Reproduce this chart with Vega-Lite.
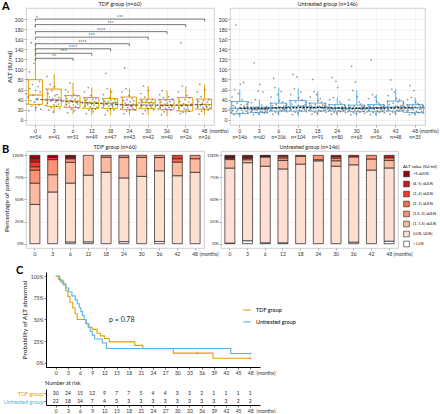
{
"$schema":"https://vega.github.io/schema/vega-lite/v6.json",
"padding":{"left":2,"top":0,"right":0,"bottom":0},
"spacing":3,
"resolve":{"scale":{"color":"independent","stroke":"independent"}},
"config":{
 "font":"Lato",
 "view":{"stroke":"#c4c4c4","strokeWidth":0.8},
 "axis":{"labelFontSize":5,"titleFontSize":6.5,"titleFontWeight":"normal","labelColor":"#333","titleColor":"#111","tickColor":"#777","tickSize":2,"tickWidth":0.6,"domain":false,"labelPadding":1,"titlePadding":2,"gridColor":"#dadada","gridDash":[1,1],"gridWidth":0.6,"labelOverlap":false},
 "title":{"fontSize":5.5,"fontWeight":"normal","offset":0.5,"color":"#222"},
 "legend":{"labelFontSize":5,"titleFontSize":5,"titleFontWeight":"normal"}
},
"datasets":{
 "pts":[
  {"g":"TDF","m":"0","v":[52,31,80,45,18,95,62,38,153,27,70,49,112,35,186,58,24,205,42,66,29,76,55,21]},
  {"g":"TDF","m":"3","v":[40,28,61,86,33,52,19,45,70,37,24,58,42,15,30,66,48,35,27,50,38,31,44,22]},
  {"g":"TDF","m":"6","v":[37,25,48,60,30,42,14,55,33,27,73,39,21,45,35,29,50,18,41,26,34,47,31,23]},
  {"g":"TDF","m":"12","v":[33,23,44,55,28,38,12,41,30,64,19,35,26,48,31,22,40,16,29,36,21,42,34,25]},
  {"g":"TDF","m":"18","v":[33,24,42,50,29,37,10,92,31,62,18,36,27,44,22,39,55,28,26,34,20,40,30,35]},
  {"g":"TDF","m":"24","v":[29,21,45,55,25,38,12,103,33,62,17,40,24,30,48,20,35,27,26,42,22,31,37,19]},
  {"g":"TDF","m":"30","v":[34,23,41,52,28,37,12,67,30,45,18,36,26,39,22,58,32,29,27,35,24,40,31,20]},
  {"g":"TDF","m":"36","v":[29,21,40,50,25,35,10,58,27,44,16,31,23,38,20,33,28,46,24,36,19,30,26,41]},
  {"g":"TDF","m":"42","v":[29,18,44,55,24,36,12,153,27,67,15,32,22,40,30,20,48,26,21,35,17,43,28,31]},
  {"g":"TDF","m":"48","v":[30,22,41,55,26,36,11,70,28,46,17,33,24,38,21,60,31,27,25,35,19,40,29,23]},
  {"g":"UNT","m":"0","v":[22,14,36,45,18,28,10,60,25,188,16,33,20,52,12,24,70,30,19,40,15,74,27,21,23,17,31,26,13,35]},
  {"g":"UNT","m":"3","v":[21,15,25,34,18,22,10,113,20,40,14,24,19,57,12,23,70,17,21,29,16,55,22,13,20,17,23,26,14,21]},
  {"g":"UNT","m":"6","v":[24,17,33,45,20,28,11,82,23,64,15,30,22,50,13,26,38,19,25,56,18,35,21,27,22,19,27,31,16,25]},
  {"g":"UNT","m":"12","v":[26,17,38,50,21,31,10,90,24,62,15,35,22,85,13,29,44,19,27,55,18,40,23,28,24,20,30,35,16,26]},
  {"g":"UNT","m":"18","v":[25,18,33,45,21,28,11,80,23,56,15,30,22,50,13,27,38,19,26,42,17,35,24,29,23,19,28,32,15,26]},
  {"g":"UNT","m":"24","v":[22,17,30,40,19,25,11,84,21,44,15,28,20,76,13,24,64,18,23,35,16,32,21,26,21,18,24,28,14,22]},
  {"g":"UNT","m":"30","v":[22,16,29,40,19,25,10,106,21,58,14,27,20,75,12,24,45,18,23,35,15,31,21,26,21,17,25,28,13,22]},
  {"g":"UNT","m":"36","v":[24,16,30,42,19,27,10,119,22,50,14,28,21,45,12,25,36,18,23,33,15,29,20,26,22,18,26,29,14,24]},
  {"g":"UNT","m":"42","v":[25,17,37,48,20,30,11,79,23,61,15,33,22,55,13,27,42,19,26,35,18,40,21,28,23,19,29,33,15,26]},
  {"g":"UNT","m":"48","v":[24,15,30,40,18,27,10,68,22,44,13,28,20,58,12,25,35,17,23,32,14,29,21,26,22,16,25,28,13,24]}
 ],
 "box":[
  {"g":"TDF","m":"0","lo":17,"q1":30.5,"md":49,"q3":79.5,"hi":153,"tr":41},
  {"g":"TDF","m":"3","lo":14,"q1":26.5,"md":40,"q3":61,"hi":90,"tr":38.4},
  {"g":"TDF","m":"6","lo":11,"q1":24,"md":37,"q3":48,"hi":73,"tr":35.8},
  {"g":"TDF","m":"12","lo":9,"q1":22.5,"md":33,"q3":44,"hi":64,"tr":33},
  {"g":"TDF","m":"18","lo":9,"q1":22.5,"md":33,"q3":42,"hi":62,"tr":31},
  {"g":"TDF","m":"24","lo":9,"q1":20,"md":29,"q3":45,"hi":62,"tr":29},
  {"g":"TDF","m":"30","lo":9,"q1":22,"md":34,"q3":41,"hi":67,"tr":29},
  {"g":"TDF","m":"36","lo":7,"q1":20,"md":29,"q3":40,"hi":58,"tr":28.5},
  {"g":"TDF","m":"42","lo":11,"q1":17,"md":29,"q3":44,"hi":67,"tr":29},
  {"g":"TDF","m":"48","lo":9,"q1":21,"md":30,"q3":41,"hi":70,"tr":30.5},
  {"g":"UNT","m":"0","lo":5,"q1":12,"md":22.5,"q3":36,"hi":60,"tr":23},
  {"g":"UNT","m":"3","lo":8,"q1":14.5,"md":21,"q3":25,"hi":40,"tr":23},
  {"g":"UNT","m":"6","lo":8,"q1":17,"md":24,"q3":33,"hi":64,"tr":23.5},
  {"g":"UNT","m":"12","lo":7,"q1":17,"md":26.5,"q3":38,"hi":62,"tr":24},
  {"g":"UNT","m":"18","lo":8,"q1":17,"md":25,"q3":33,"hi":56,"tr":24},
  {"g":"UNT","m":"24","lo":8,"q1":17,"md":22.5,"q3":30,"hi":44,"tr":23.5},
  {"g":"UNT","m":"30","lo":7,"q1":16,"md":22.5,"q3":29,"hi":58,"tr":23},
  {"g":"UNT","m":"36","lo":7,"q1":16,"md":24,"q3":30,"hi":50,"tr":23},
  {"g":"UNT","m":"42","lo":8,"q1":17,"md":25,"q3":37,"hi":61,"tr":23.5},
  {"g":"UNT","m":"48","lo":8,"q1":14.5,"md":24,"q3":30,"hi":44,"tr":23.5}
 ],
 "sig":[
  {"from":0,"to":2,"y":122,"s":"**"},
  {"from":0,"to":3,"y":132,"s":"***"},
  {"from":0,"to":4,"y":141,"s":"****"},
  {"from":0,"to":5,"y":151,"s":"****"},
  {"from":0,"to":6,"y":164,"s":"***"},
  {"from":0,"to":7,"y":175,"s":"****"},
  {"from":0,"to":8,"y":189,"s":"***"},
  {"from":0,"to":9,"y":200,"s":"***"}
 ],
 "alt":[
  {"g":"TDF","m":"0","cat":["[LLN, ULN]","(1, 1.5] xULN","(1.5, 2] xULN","(2, 3] xULN","(3, 4] xULN","(4, 5] xULN",">5 xULN"],"n":[24,13,8,2,3,2,2]},
  {"g":"TDF","m":"3","cat":["[LLN, ULN]","(1, 1.5] xULN","(1.5, 2] xULN","(3, 4] xULN",">5 xULN"],"n":[24,8,7,1,1]},
  {"g":"TDF","m":"6","cat":["< LLN","[LLN, ULN]","(1, 1.5] xULN","(1.5, 2] xULN","(4, 5] xULN",">5 xULN"],"n":[1,34,12,2,1,1]},
  {"g":"TDF","m":"12","cat":["< LLN","[LLN, ULN]","(1, 1.5] xULN"],"n":[1,37,11]},
  {"g":"TDF","m":"18","cat":["[LLN, ULN]","(1, 1.5] xULN","(1.5, 2] xULN"],"n":[38,8,1]},
  {"g":"TDF","m":"24","cat":["< LLN","[LLN, ULN]","(1, 1.5] xULN","(1.5, 2] xULN"],"n":[1,31,10,1]},
  {"g":"TDF","m":"30","cat":["[LLN, ULN]","(1, 1.5] xULN","(1.5, 2] xULN"],"n":[32,9,1]},
  {"g":"TDF","m":"36","cat":["< LLN","[LLN, ULN]","(1, 1.5] xULN","(1.5, 2] xULN"],"n":[1,32,6,1]},
  {"g":"TDF","m":"42","cat":["[LLN, ULN]","(1, 1.5] xULN","(2, 3] xULN","(3, 4] xULN"],"n":[20,4,1,1]},
  {"g":"TDF","m":"48","cat":["[LLN, ULN]","(1, 1.5] xULN","(1.5, 2] xULN"],"n":[21,4,1]},
  {"g":"UNT","m":"0","cat":["< LLN","[LLN, ULN]","(1, 1.5] xULN","(1.5, 2] xULN","(2, 3] xULN","(4, 5] xULN",">5 xULN"],"n":[1,124,14,2,1,1,3]},
  {"g":"UNT","m":"3","cat":["< LLN","[LLN, ULN]","(1, 1.5] xULN","(1.5, 2] xULN","(4, 5] xULN",">5 xULN"],"n":[2,53,2,1,1,1]},
  {"g":"UNT","m":"6","cat":["< LLN","[LLN, ULN]","(1, 1.5] xULN","(4, 5] xULN",">5 xULN"],"n":[1,92,11,1,1]},
  {"g":"UNT","m":"12","cat":["< LLN","[LLN, ULN]","(1, 1.5] xULN","(1.5, 2] xULN","(2, 3] xULN","(4, 5] xULN"],"n":[1,87,10,3,2,1]},
  {"g":"UNT","m":"18","cat":["[LLN, ULN]","(1, 1.5] xULN","(2, 3] xULN"],"n":[82,8,1]},
  {"g":"UNT","m":"24","cat":["[LLN, ULN]","(1, 1.5] xULN","(1.5, 2] xULN"],"n":[75,1,4]},
  {"g":"UNT","m":"30","cat":["[LLN, ULN]","(1, 1.5] xULN","(1.5, 2] xULN","(2, 3] xULN","(4, 5] xULN"],"n":[57,4,2,1,1]},
  {"g":"UNT","m":"36","cat":["< LLN","[LLN, ULN]","(1, 1.5] xULN","(4, 5] xULN"],"n":[1,49,5,1]},
  {"g":"UNT","m":"42","cat":["[LLN, ULN]","(1, 1.5] xULN","(1.5, 2] xULN"],"n":[40,6,2]},
  {"g":"UNT","m":"48","cat":["< LLN","[LLN, ULN]","(1, 1.5] xULN","(1.5, 2] xULN","(4, 5] xULN"],"n":[1,29,3,1,1]}
 ],
 "km":[
  {"g":"TDF group","t":[0,0.7,1.3,2.0,2.5,3.0,3.5,4.2,4.8,5.3,7.4,8.2,9.0,10.2,11.0,12.0,13.2,19.5,21.5,29.0,38.8,48],"s":[1,0.967,0.933,0.9,0.833,0.767,0.7,0.633,0.567,0.5,0.45,0.41,0.385,0.34,0.31,0.28,0.24,0.2,0.16,0.11,0.05,0.05]},
  {"g":"Untreated group","t":[0,1.0,1.8,2.5,3.2,4.0,4.8,5.3,5.8,6.2,6.6,7.0,7.5,8.0,8.5,9.0,9.6,11.5,12.5,43.2,48],"s":[1,0.955,0.909,0.864,0.818,0.773,0.727,0.682,0.636,0.591,0.545,0.5,0.455,0.409,0.364,0.318,0.273,0.227,0.163,0.105,0.105]}
 ],
 "cens":[
  {"g":"TDF group","t":35,"s":0.11},
  {"g":"TDF group","t":48,"s":0.05},
  {"g":"Untreated group","t":48,"s":0.105}
 ],
 "risk":[
  {"g":"TDF group","t":[0,3,6,9,12,15,18,21,24,27,30,33,36,39,42,45,48],"n":[30,24,15,12,9,7,7,5,4,4,3,3,2,1,1,1,1]},
  {"g":"Untreated group","t":[0,3,6,9,12,15,18,21,24,27,30,33,36,39,42,45,48],"n":[22,18,14,7,4,3,3,3,3,3,3,3,3,3,3,2,2]}
 ]
},
"vconcat":[
 {
  "title":{"text":"A","anchor":"start","frame":"group","fontSize":11,"fontWeight":"bold","dx":-24,"offset":-10,"color":"#000"},
  "bounds":"flush","spacing":16,
  "hconcat":[
   {
    "width":188,"height":117,
    "title":"TDF group (n=60)",
    "layer":[
     {"data":{"name":"box"},"transform":[{"filter":"datum.g=='TDF'"}],
      "layer":[
       {"mark":{"type":"rule","color":"#E69F00","strokeWidth":1},
        "encoding":{
         "x":{"field":"m","type":"ordinal","sort":["0","3","6","12","18","24","30","36","42","48"],"scale":{"paddingInner":0,"paddingOuter":0},"title":"(months)",
              "axis":{"grid":true,"bandPosition":0.5,"labelAngle":0,"labelBaseline":"top","labelLineHeight":6.5,
                      "labelExpr":"[datum.value, ['n=54','n=41','n=51','n=49','n=47','n=43','n=42','n=40','n=26','n=26'][indexof(['0','3','6','12','18','24','30','36','42','48'], datum.value)]]",
                      "titleX":183,"titleY":3,"titleAlign":"left","titleBaseline":"top","titleFontSize":5,"titleColor":"#333"}},
         "y":{"field":"lo","type":"quantitative","scale":{"domain":[-10.5,222],"nice":false,"zero":false},"title":"ALT (IU/ml)","axis":{"values":[0,20,40,60,80,100,120,140,160,180,200]}},
         "y2":{"field":"q1"}}},
       {"mark":{"type":"rule","color":"#E69F00","strokeWidth":1},
        "encoding":{"x":{"field":"m","type":"ordinal","sort":["0","3","6","12","18","24","30","36","42","48"]},"y":{"field":"q3","type":"quantitative","title":"ALT (IU/ml)","axis":{"values":[0,20,40,60,80,100,120,140,160,180,200]}},"y2":{"field":"hi"}}},
       {"mark":{"type":"bar","width":14,"fill":"#ffffff","fillOpacity":0,"stroke":"#E69F00","strokeWidth":1},
        "encoding":{"x":{"field":"m","type":"ordinal","sort":["0","3","6","12","18","24","30","36","42","48"]},"y":{"field":"q1","type":"quantitative","title":"ALT (IU/ml)","axis":{"values":[0,20,40,60,80,100,120,140,160,180,200]}},"y2":{"field":"q3"}}},
       {"mark":{"type":"bar","width":14,"fill":"#ffffff","fillOpacity":0,"stroke":"#E69F00","strokeWidth":0.8},
        "encoding":{"x":{"field":"m","type":"ordinal","sort":["0","3","6","12","18","24","30","36","42","48"]},"y":{"field":"md","type":"quantitative","title":"ALT (IU/ml)","axis":{"values":[0,20,40,60,80,100,120,140,160,180,200]}},"y2":{"field":"md"}}},
       {"data":{"name":"pts"},"transform":[{"filter":"datum.g=='TDF'"},{"flatten":["v"]},{"window":[{"op":"row_number","as":"r"}],"groupby":["m"]}],
        "mark":{"type":"circle","size":3,"color":"#555","opacity":0.6},
        "encoding":{"x":{"field":"m","type":"ordinal","sort":["0","3","6","12","18","24","30","36","42","48"]},"xOffset":{"field":"r","type":"nominal","scale":{"paddingOuter":0.3}},"y":{"field":"v","type":"quantitative","title":"ALT (IU/ml)","axis":{"values":[0,20,40,60,80,100,120,140,160,180,200]}}}},
       {"mark":{"type":"line","color":"#444","strokeDash":[3,2],"strokeWidth":0.9},
        "encoding":{"x":{"field":"m","type":"ordinal","sort":["0","3","6","12","18","24","30","36","42","48"]},"y":{"field":"tr","type":"quantitative","title":"ALT (IU/ml)","axis":{"values":[0,20,40,60,80,100,120,140,160,180,200]}}}}
      ]},
     {"data":{"name":"sig"},
      "layer":[
       {"mark":{"type":"rule","color":"#555","strokeWidth":0.8},
        "encoding":{"x":{"field":"from","type":"quantitative","scale":{"domain":[-0.5,9.5],"nice":false,"zero":false},"axis":null},"x2":{"field":"to"},"y":{"field":"y","type":"quantitative","title":"ALT (IU/ml)","axis":{"values":[0,20,40,60,80,100,120,140,160,180,200]}}}},
       {"transform":[{"calculate":"datum.y-5","as":"yb"}],
        "mark":{"type":"rule","color":"#555","strokeWidth":0.8},
        "encoding":{"x":{"field":"from","type":"quantitative","scale":{"domain":[-0.5,9.5],"nice":false,"zero":false},"axis":null},"y":{"field":"y","type":"quantitative","title":"ALT (IU/ml)","axis":{"values":[0,20,40,60,80,100,120,140,160,180,200]}},"y2":{"field":"yb"}}},
       {"transform":[{"calculate":"datum.y-5","as":"yb"}],
        "mark":{"type":"rule","color":"#555","strokeWidth":0.8},
        "encoding":{"x":{"field":"to","type":"quantitative","scale":{"domain":[-0.5,9.5],"nice":false,"zero":false},"axis":null},"y":{"field":"y","type":"quantitative","title":"ALT (IU/ml)","axis":{"values":[0,20,40,60,80,100,120,140,160,180,200]}},"y2":{"field":"yb"}}},
       {"transform":[{"calculate":"datum.to/2","as":"mid"}],
        "mark":{"type":"text","fontSize":5,"baseline":"bottom","dy":1,"color":"#222"},
        "encoding":{"x":{"field":"mid","type":"quantitative","scale":{"domain":[-0.5,9.5],"nice":false,"zero":false},"axis":null},"y":{"field":"y","type":"quantitative","title":"ALT (IU/ml)","axis":{"values":[0,20,40,60,80,100,120,140,160,180,200]}},"text":{"field":"s"}}}
      ]}
    ],
    "resolve":{"scale":{"x":"independent"}}
   },
   {
    "width":195,"height":117,
    "title":"Untreated group (n=146)",
    "data":{"name":"box"},"transform":[{"filter":"datum.g=='UNT'"}],
    "layer":[
     {"mark":{"type":"rule","color":"#56B4E9","strokeWidth":1},
      "encoding":{
       "x":{"field":"m","type":"ordinal","sort":["0","3","6","12","18","24","30","36","42","48"],"scale":{"paddingInner":0,"paddingOuter":0},"title":"(months)",
            "axis":{"grid":true,"bandPosition":0.5,"labelAngle":0,"labelBaseline":"top","labelLineHeight":6.5,
                    "labelExpr":"[datum.value, ['n=146','n=60','n=106','n=104','n=91','n=80','n=65','n=56','n=48','n=35'][indexof(['0','3','6','12','18','24','30','36','42','48'], datum.value)]]",
                    "titleX":189,"titleY":3,"titleAlign":"left","titleBaseline":"top","titleFontSize":5,"titleColor":"#333"}},
       "y":{"field":"lo","type":"quantitative","scale":{"domain":[-10.5,222],"nice":false,"zero":false},"title":null,"axis":{"values":[0,20,40,60,80,100,120,140,160,180,200]}},
       "y2":{"field":"q1"}}},
     {"mark":{"type":"rule","color":"#56B4E9","strokeWidth":1},
      "encoding":{"x":{"field":"m","type":"ordinal","sort":["0","3","6","12","18","24","30","36","42","48"]},"y":{"field":"q3","type":"quantitative","title":null,"axis":{"values":[0,20,40,60,80,100,120,140,160,180,200]}},"y2":{"field":"hi"}}},
     {"mark":{"type":"bar","width":16,"fill":"#ffffff","fillOpacity":0,"stroke":"#56B4E9","strokeWidth":1},
      "encoding":{"x":{"field":"m","type":"ordinal","sort":["0","3","6","12","18","24","30","36","42","48"]},"y":{"field":"q1","type":"quantitative","title":null,"axis":{"values":[0,20,40,60,80,100,120,140,160,180,200]}},"y2":{"field":"q3"}}},
     {"mark":{"type":"bar","width":16,"fill":"#ffffff","fillOpacity":0,"stroke":"#56B4E9","strokeWidth":0.8},
      "encoding":{"x":{"field":"m","type":"ordinal","sort":["0","3","6","12","18","24","30","36","42","48"]},"y":{"field":"md","type":"quantitative","title":null,"axis":{"values":[0,20,40,60,80,100,120,140,160,180,200]}},"y2":{"field":"md"}}},
     {"data":{"name":"pts"},"transform":[{"filter":"datum.g=='UNT'"},{"flatten":["v"]},{"window":[{"op":"row_number","as":"r"}],"groupby":["m"]}],
      "mark":{"type":"circle","size":3,"color":"#555","opacity":0.6},
      "encoding":{"x":{"field":"m","type":"ordinal","sort":["0","3","6","12","18","24","30","36","42","48"]},"xOffset":{"field":"r","type":"nominal","scale":{"paddingOuter":0.3}},"y":{"field":"v","type":"quantitative","title":null,"axis":{"values":[0,20,40,60,80,100,120,140,160,180,200]}}}},
     {"mark":{"type":"line","color":"#111","strokeDash":[2,1.5],"strokeWidth":1.2},
      "encoding":{"x":{"field":"m","type":"ordinal","sort":["0","3","6","12","18","24","30","36","42","48"]},"y":{"field":"tr","type":"quantitative","title":null,"axis":{"values":[0,20,40,60,80,100,120,140,160,180,200]}}}}
    ]
   }
  ]
 },
 {
  "title":{"text":"B","anchor":"start","frame":"group","fontSize":11,"fontWeight":"bold","dx":-24,"offset":-10,"color":"#000"},
  "bounds":"flush","spacing":17,
  "hconcat":[
   {
    "width":178,"height":97,
    "title":"TDF group (n=60)",
    "data":{"name":"alt"},
    "transform":[{"filter":"datum.g=='TDF'"},{"flatten":["cat","n"]},{"calculate":"indexof(['< LLN','[LLN, ULN]','(1, 1.5] xULN','(1.5, 2] xULN','(2, 3] xULN','(3, 4] xULN','(4, 5] xULN','>5 xULN'], datum.cat)","as":"o"}],
    "mark":{"type":"bar","width":10,"stroke":"#222","strokeWidth":0.7},
    "encoding":{
     "x":{"field":"m","type":"ordinal","sort":["0","3","6","12","18","24","30","36","42","48"],"scale":{"paddingInner":0,"paddingOuter":0},"title":"(months)",
          "axis":{"labelAngle":0,"labelBaseline":"top","labelLineHeight":5,"labelExpr":"[datum.value, '']","titleX":173,"titleY":3,"titleAlign":"left","titleBaseline":"top","titleFontSize":5,"titleColor":"#333"}},
     "y":{"field":"n","type":"quantitative","stack":"normalize","scale":{"domain":[-0.049,1.049],"nice":false,"zero":false},"title":"Percentage of patients","axis":{"values":[0,0.25,0.5,0.75,1],"format":"%","labelFontSize":4.5}},
     "color":{"field":"cat","type":"nominal","scale":{"domain":[">5 xULN","(4, 5] xULN","(3, 4] xULN","(2, 3] xULN","(1.5, 2] xULN","(1, 1.5] xULN","[LLN, ULN]","< LLN"],"range":["#99000D","#CB181D","#EF3B2C","#FB6A4A","#FC9272","#FCBBA1","#FEE0D2","#FFFFFF"]},
              "legend":{"title":"ALT value (IU/ml)","orient":"none","legendX":377,"legendY":13,"titleFontSize":4.5,"labelFontSize":4,"symbolType":"square","symbolSize":32,"symbolStrokeColor":"#222","symbolStrokeWidth":0.6,"rowPadding":1,"titlePadding":2,"labelOffset":3,"padding":0}},
     "order":{"field":"o","type":"quantitative"}
    }
   },
   {
    "width":177,"height":97,
    "title":"Untreated group (n=146)",
    "data":{"name":"alt"},
    "transform":[{"filter":"datum.g=='UNT'"},{"flatten":["cat","n"]},{"calculate":"indexof(['< LLN','[LLN, ULN]','(1, 1.5] xULN','(1.5, 2] xULN','(2, 3] xULN','(3, 4] xULN','(4, 5] xULN','>5 xULN'], datum.cat)","as":"o"}],
    "mark":{"type":"bar","width":10,"stroke":"#222","strokeWidth":0.7},
    "encoding":{
     "x":{"field":"m","type":"ordinal","sort":["0","3","6","12","18","24","30","36","42","48"],"scale":{"paddingInner":0,"paddingOuter":0},"title":"(months)",
          "axis":{"labelAngle":0,"labelBaseline":"top","labelLineHeight":5,"labelExpr":"[datum.value, '']","titleX":172,"titleY":3,"titleAlign":"left","titleBaseline":"top","titleFontSize":5,"titleColor":"#333"}},
     "y":{"field":"n","type":"quantitative","stack":"normalize","scale":{"domain":[-0.049,1.049],"nice":false,"zero":false},"title":null,"axis":{"values":[0,0.25,0.5,0.75,1],"format":"%","labelFontSize":4.5}},
     "color":{"field":"cat","type":"nominal"},
     "order":{"field":"o","type":"quantitative"}
    }
   }
  ]
 },
 {
  "title":{"text":"C","anchor":"start","frame":"group","fontSize":11,"fontWeight":"bold","dx":-10,"offset":-4,"color":"#000"},
  "bounds":"flush","spacing":0,
  "hconcat":[
   {"width":20,"height":10,"view":{"stroke":null},"data":{"values":[{}]},"mark":{"type":"point","opacity":0},"encoding":{}},
   {
    "bounds":"flush","spacing":22,
    "vconcat":[
     {
      "width":214,"height":95,
      "view":{"stroke":null},
      "layer":[
       {"data":{"name":"km"},"transform":[{"flatten":["t","s"]}],
        "mark":{"type":"line","interpolate":"step-after","strokeWidth":1.1},
        "encoding":{
         "x":{"field":"t","type":"quantitative","scale":{"domain":[-2.4,50.4],"nice":false,"zero":false},"title":"(months)",
              "axis":{"values":[0,3,6,9,12,15,18,21,24,27,30,33,36,39,42,45,48],"grid":false,"domain":true,"domainColor":"#000","tickColor":"#000","labelFontSize":5,"titleX":210,"titleY":3,"titleAlign":"left","titleBaseline":"top","titleFontSize":5,"titleColor":"#333"}},
         "y":{"field":"s","type":"quantitative","scale":{"domain":[-0.051,1.05],"nice":false,"zero":false},"title":"Probability of ALT abnormal",
              "axis":{"values":[0,0.25,0.5,0.75,1],"format":"%","grid":false,"domain":true,"domainColor":"#000","tickColor":"#000","titleFontSize":6.5,"titlePadding":3}},
         "stroke":{"field":"g","type":"nominal","scale":{"domain":["TDF group","Untreated group"],"range":["#E69F00","#56B4E9"]},
                   "legend":{"title":null,"orient":"none","legendX":216,"legendY":33,"symbolType":"stroke","symbolStrokeWidth":1.5,"symbolSize":60,"labelFontSize":5.5,"rowPadding":3}}
        }},
       {"data":{"name":"cens"},
        "mark":{"type":"point","shape":"M-1,0H1M0,-1V1","size":14,"filled":false,"strokeWidth":0.8},
        "encoding":{
         "x":{"field":"t","type":"quantitative","title":"(months)","axis":{"values":[0,3,6,9,12,15,18,21,24,27,30,33,36,39,42,45,48],"grid":false,"domain":true,"domainColor":"#000","tickColor":"#000","labelFontSize":5,"titleX":210,"titleY":3,"titleAlign":"left","titleBaseline":"top","titleFontSize":5,"titleColor":"#333"}},
         "y":{"field":"s","type":"quantitative","title":"Probability of ALT abnormal","axis":{"values":[0,0.25,0.5,0.75,1],"format":"%","grid":false,"domain":true,"domainColor":"#000","tickColor":"#000","titleFontSize":6.5,"titlePadding":3}},
         "stroke":{"field":"g","type":"nominal"}}},
       {"data":{"values":[{}]},
        "mark":{"type":"text","fontSize":7,"color":"#222"},
        "encoding":{
         "x":{"datum":16.3,"type":"quantitative","title":"(months)","axis":{"values":[0,3,6,9,12,15,18,21,24,27,30,33,36,39,42,45,48],"grid":false,"domain":true,"domainColor":"#000","tickColor":"#000","labelFontSize":5,"titleX":210,"titleY":3,"titleAlign":"left","titleBaseline":"top","titleFontSize":5,"titleColor":"#333"}},
         "y":{"datum":0.49,"type":"quantitative","title":"Probability of ALT abnormal","axis":{"values":[0,0.25,0.5,0.75,1],"format":"%","grid":false,"domain":true,"domainColor":"#000","tickColor":"#000","titleFontSize":6.5,"titlePadding":3}},
         "text":{"value":"p = 0.78"}}}
      ]
     },
     {
      "width":214,"height":16,
      "view":{"stroke":null},
      "title":{"text":"Number at risk","anchor":"start","frame":"group","fontSize":5.5,"offset":3,"dx":-1},
      "data":{"name":"risk"},
      "transform":[{"flatten":["t","n"]}],
      "mark":{"type":"text","fontSize":5,"color":"#222"},
      "encoding":{
       "x":{"field":"t","type":"quantitative","scale":{"domain":[-2.4,50.4],"nice":false,"zero":false},"title":"(months)",
            "axis":{"values":[0,3,6,9,12,15,18,21,24,27,30,33,36,39,42,45,48],"grid":false,"domain":true,"domainColor":"#000","tickColor":"#000","labelFontSize":5,"titleX":210,"titleY":3,"titleAlign":"left","titleBaseline":"top","titleFontSize":5,"titleColor":"#333"}},
       "y":{"field":"g","type":"nominal","sort":["TDF group","Untreated group"],"title":null,
            "axis":{"grid":false,"domain":true,"domainColor":"#000","tickColor":"#000","labelFontSize":5.5,"labelColor":{"condition":{"test":"datum.value=='TDF group'","value":"#E69F00"},"value":"#56B4E9"}}},
       "text":{"field":"n","type":"quantitative"}
      }
     }
    ]
   }
  ]
 }
]
}
